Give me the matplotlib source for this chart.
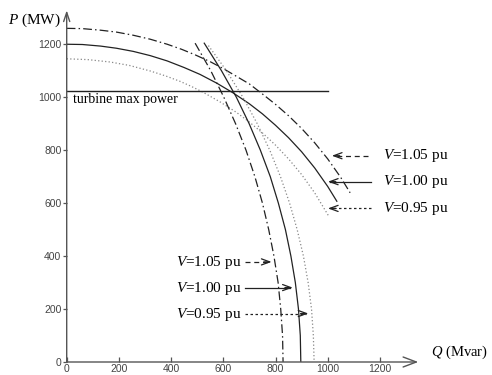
import matplotlib
matplotlib.use("Agg")
import matplotlib.pyplot as plt

# ---------------- data ----------------
# stator (armature current) limit curves
Q_st_105 = [0, 60, 130, 190, 255, 320, 385, 440, 492, 550, 600, 650, 700, 750, 800, 850, 900, 950, 1000, 1050, 1086]
P_st_105 = [1260, 1259, 1253, 1246, 1234, 1219, 1200, 1181, 1160, 1134, 1108, 1079, 1050, 1012, 973, 930, 882, 828, 767, 697, 639]
Q_st_100 = [0, 60, 130, 190, 255, 320, 385, 450, 511, 575, 638, 700, 750, 800, 850, 900, 950, 1000, 1035]
P_st_100 = [1200, 1199, 1193, 1185, 1173, 1157, 1137, 1112, 1086, 1053, 1016, 975, 937, 894, 847, 794, 733, 663, 607]
Q_st_095 = [0, 80, 166, 240, 320, 380, 434, 475, 522, 588, 650, 700, 750, 800, 850, 900, 950, 1005]
P_st_095 = [1145, 1142, 1133, 1120, 1099, 1080, 1060, 1042, 1019, 982, 943, 906, 865, 819, 767, 708, 639, 549]

# field (rotor current) limit curves
P_f = [1204, 1100, 1000, 900, 800, 700, 600, 500, 400, 300, 200, 100, 0]
Q_f_105 = [492, 552, 602, 647, 687, 721, 750, 774, 794, 810, 820, 827, 829]
Q_f_100 = [527, 593, 650, 699, 742, 780, 811, 838, 859, 876, 888, 895, 897]
P_f_095 = [1195, 1100, 1000, 900, 800, 700, 600, 500, 400, 300, 200, 100, 0]
Q_f_095 = [543, 612, 675, 730, 778, 819, 854, 883, 907, 925, 938, 945, 948]

turbine_P = 1025
turbine_Q = [0, 1000]

xticks = [0, 200, 400, 600, 800, 1000, 1200]
yticks = [0, 200, 400, 600, 800, 1000, 1200]
labels = ["$V$=1.05 pu", "$V$=1.00 pu", "$V$=0.95 pu"]

# ---------------- style ----------------
plt.rcParams['mathtext.fontset'] = 'custom'
plt.rcParams['mathtext.it'] = 'Liberation Serif:italic'
plt.rcParams['mathtext.rm'] = 'Liberation Serif'

XMAX, YMAX = 1347, 1328
fig = plt.figure(figsize=(4.92, 3.75), dpi=100)
ax = fig.add_axes([66.7 / 492, 13 / 375, XMAX * 0.261 / 492, YMAX * 0.2648 / 375])
ax.set_xlim(0, XMAX)
ax.set_ylim(0, YMAX)
for s in ax.spines.values():
    s.set_visible(False)

dark = '#222222'
dotc = '#888888'
dashdot = (0, (7, 2.5, 1.2, 2.5))
lw = 0.9

ax.plot(Q_st_105, P_st_105, color=dark, lw=lw, linestyle=dashdot)
ax.plot(Q_st_100, P_st_100, color=dark, lw=lw)
ax.plot(Q_st_095, P_st_095, color=dotc, lw=lw, linestyle=(0, (1, 1.8)))
ax.plot(Q_f_105, P_f, color=dark, lw=lw, linestyle=dashdot)
ax.plot(Q_f_100, P_f, color=dark, lw=lw)
ax.plot(Q_f_095, P_f_095, color=dotc, lw=lw, linestyle=(0, (1, 1.8)))
ax.plot(turbine_Q, [turbine_P, turbine_P], color=dark, lw=1.0)

ax.text(25, turbine_P - 10, "turbine max power", family='Liberation Serif',
        fontsize=10, va='top', ha='left', color='black')

# axes with arrows
axc = '#555555'
ax.annotate('', xy=(XMAX, 0), xytext=(0, 0), annotation_clip=False,
            arrowprops=dict(arrowstyle='->,head_length=0.95,head_width=0.36',
                            lw=1.0, color=axc, shrinkA=0, shrinkB=0))
ax.annotate('', xy=(0, YMAX), xytext=(0, 0), annotation_clip=False,
            arrowprops=dict(arrowstyle='->,head_length=0.65,head_width=0.22',
                            lw=1.0, color=axc, shrinkA=0, shrinkB=0))

tickfont = ['Liberation Sans Narrow', 'Liberation Sans', 'DejaVu Sans']
ax.set_xticks(xticks)
ax.set_yticks(yticks)
ax.set_xticklabels([str(v) for v in xticks], family=tickfont, fontsize=7.5, color='#444444')
ax.set_yticklabels([str(v) for v in yticks], family=tickfont, fontsize=7.5, color='#444444')
ax.tick_params(axis='x', direction='in', length=3.5, width=0.9, color=axc, pad=1.5)
ax.tick_params(axis='y', direction='out', length=3, width=0.9, color=axc, pad=0.8)

ax.text(-225, 1290, "$P$ (MW)", family='Liberation Serif', fontsize=11,
        va='center', ha='left', clip_on=False)
ax.text(1396, 37, "$Q$ (Mvar)", family='Liberation Serif', fontsize=10.5,
        va='center', ha='left', clip_on=False)

# annotations
styles = [(dark, (0, (4, 3))), (dark, '-'), (dark, (0, (2, 2)))]
right_y = [779, 681, 580]
right_from = [1154, 1165, 1165]
right_tip = [1016, 1001, 1001]
left_y = [378, 281, 183]
left_from = [683, 683, 683]
left_tip = [785, 866, 926]


def arrow(x0, x1, y, color, ls):
    d = 30 if x1 > x0 else -30
    ax.plot([x0, x1 - d * 0.3], [y, y], color=color, lw=0.9, linestyle=ls, clip_on=False)
    ax.annotate('', xy=(x1, y), xytext=(x1 - d, y), annotation_clip=False,
                arrowprops=dict(arrowstyle='->,head_length=0.6,head_width=0.22',
                                lw=0.9, color=color, shrinkA=0, shrinkB=0))


for i in range(3):
    c, ls = styles[i]
    ax.text(1213, right_y[i], labels[i], family='Liberation Serif', fontsize=11,
            va='center', ha='left', clip_on=False)
    arrow(right_from[i], right_tip[i], right_y[i], c, ls)
    ax.text(418, left_y[i] - 3, labels[i], family='Liberation Serif', fontsize=11,
            va='center', ha='left')
    arrow(left_from[i], left_tip[i], left_y[i], c, ls)

fig.savefig("out.png", dpi=100)
